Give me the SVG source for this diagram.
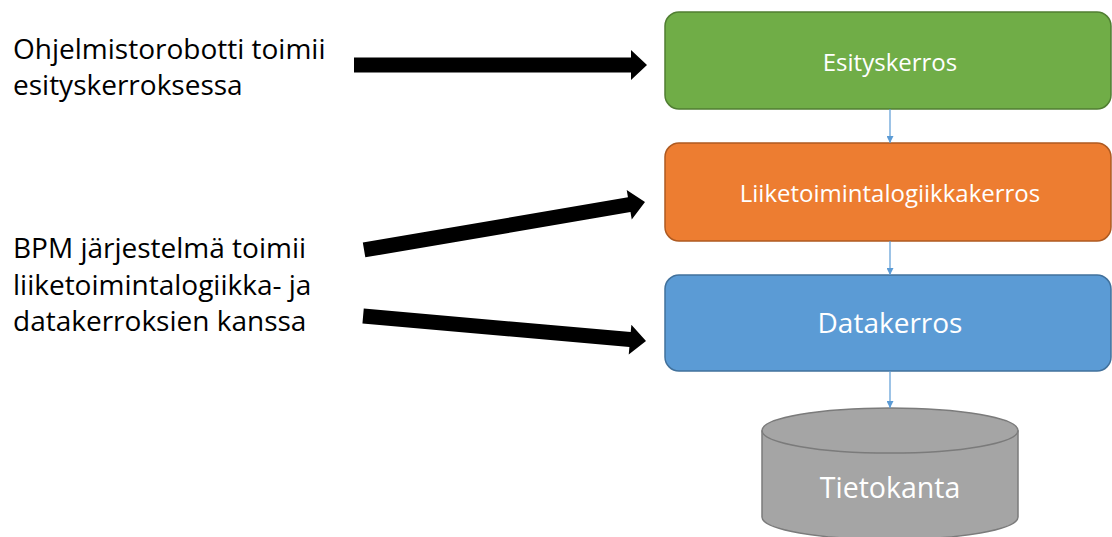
<svg xmlns="http://www.w3.org/2000/svg" width="1112" height="537" viewBox="0 0 1112 537">
  <style>
    .note { font-family: "Open Sans", "Liberation Sans", sans-serif; font-size: 28px; fill: #000; }
    .label { font-family: "Open Sans", "Liberation Sans", sans-serif; fill: #fff; text-anchor: middle; }
    .layer { stroke-width: 1.5; }
    .link { stroke: #5B9BD5; stroke-width: 1.2; fill: none; marker-end: url(#tip); }
    .fat { fill: #000; }
  </style>
  <defs>
    <marker id="tip" viewBox="0 0 10 10" refX="10" refY="5" markerWidth="7" markerHeight="7" markerUnits="userSpaceOnUse" orient="auto">
      <path d="M0,0 L10,5 L0,10 Z" fill="#5B9BD5"/>
    </marker>
  </defs>
  <rect width="1112" height="537" fill="#fff"/>

  <!-- descriptive notes on the left -->
  <g id="note-robot">
    <text class="note" x="13" y="59">Ohjelmistorobotti toimii</text>
    <text class="note" x="13" y="95">esityskerroksessa</text>
  </g>
  <g id="note-bpm">
    <text class="note" x="13" y="258">BPM järjestelmä toimii</text>
    <text class="note" x="13" y="295">liiketoimintalogiikka- ja</text>
    <text class="note" x="13" y="331">datakerroksien kanssa</text>
  </g>

  <!-- layer stack -->
  <g id="layer-presentation">
    <rect class="layer" x="665" y="12" width="446" height="97" rx="14" fill="#70AD47" stroke="#507E32"/>
    <text class="label" x="890" y="71" font-size="24">Esityskerros</text>
  </g>
  <g id="layer-business">
    <rect class="layer" x="665" y="143" width="446" height="98" rx="14" fill="#ED7D31" stroke="#AE5A21"/>
    <text class="label" x="890" y="202" font-size="24">Liiketoimintalogiikkakerros</text>
  </g>
  <g id="layer-data">
    <rect class="layer" x="665" y="275" width="446" height="96" rx="14" fill="#5B9BD5" stroke="#41719C"/>
    <text class="label" x="890" y="333" font-size="28">Datakerros</text>
  </g>
  <g id="database">
    <path d="M762,430.5 A128,22.5 0 0 1 1018,430.5 L1018,517 A128,22.5 0 0 1 762,517 Z" fill="#A5A5A5" stroke="#7B7B7B" stroke-width="1.5"/>
    <path d="M762,430.5 A128,22.5 0 0 0 1018,430.5" fill="none" stroke="#7B7B7B" stroke-width="1.5"/>
    <text class="label" x="890" y="498" font-size="28.5">Tietokanta</text>
  </g>

  <!-- connectors -->
  <g id="connectors">
    <line class="link" x1="890" y1="109" x2="890" y2="143"/>
    <line class="link" x1="890" y1="241" x2="890" y2="275"/>
    <line class="link" x1="890" y1="371" x2="890" y2="408"/>
    <polygon class="fat" transform="translate(647,65)" points="-293,-7.5 -16,-7.5 -16,-15 0,0 -16,15 -16,7.5 -293,7.5"/>
    <polygon class="fat" transform="translate(645,202) rotate(-9.69)" points="-285,-7.5 -16,-7.5 -16,-15 0,0 -16,15 -16,7.5 -285,7.5"/>
    <polygon class="fat" transform="translate(646,341) rotate(5.05)" points="-284,-7.5 -16,-7.5 -16,-15 0,0 -16,15 -16,7.5 -284,7.5"/>
  </g>
</svg>
